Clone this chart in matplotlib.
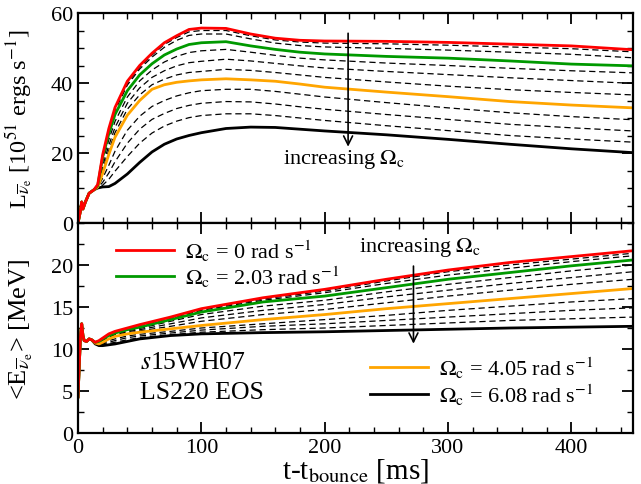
import matplotlib
matplotlib.use("Agg")
import matplotlib.pyplot as plt
from matplotlib.ticker import MultipleLocator

plt.rcParams['font.family'] = ['Liberation Serif', 'DejaVu Serif']
plt.rcParams['mathtext.fontset'] = 'stix'

# ---------------- data: luminosity (top panel) ----------------
t_lum = [0, 2, 3, 4, 6, 9, 13, 16, 20, 25, 30, 40, 50, 60, 70, 80, 90, 100,
         120, 140, 160, 180, 200, 250, 300, 350, 400, 450]
early_lum = [0, 3.5, 6, 4, 6, 8.5, 9.5]
L_red    = early_lum + [11.0, 19.5, 27.0, 33.0, 40.5, 45.0, 48.5, 51.5, 53.5, 55.3, 55.7, 55.6, 54.0, 52.8, 52.2, 52.0, 51.9, 51.6, 51.1, 50.6, 49.5]
L_d1     = early_lum + [10.9, 19.3, 26.7, 32.6, 40.0, 44.5, 48.0, 51.0, 53.0, 54.6, 55.0, 55.0, 53.5, 52.3, 51.7, 51.4, 51.2, 50.8, 50.3, 49.8, 48.9]
L_d2     = early_lum + [10.8, 19.1, 26.3, 32.1, 39.4, 44.0, 47.4, 50.2, 52.2, 53.6, 54.0, 54.0, 52.6, 51.4, 50.7, 50.3, 49.9, 49.4, 48.8, 48.2, 47.2]
L_green  = early_lum + [10.7, 18.8, 25.5, 31.0, 37.8, 42.3, 45.5, 48.0, 49.7, 51.0, 51.5, 51.8, 50.6, 49.6, 48.8, 48.3, 47.6, 47.1, 46.3, 45.4, 44.9]
L_d3     = early_lum + [10.6, 17.5, 23.8, 29.0, 36.0, 40.6, 43.7, 46.0, 47.6, 48.7, 49.2, 49.6, 48.8, 47.9, 47.1, 46.6, 45.7, 45.0, 44.2, 43.5, 42.9]
L_d4     = early_lum + [10.5, 16.3, 22.2, 27.3, 34.2, 38.6, 41.6, 43.5, 44.9, 45.8, 46.2, 46.8, 46.3, 45.6, 44.9, 44.3, 43.3, 42.4, 41.5, 40.7, 39.9]
L_d5     = early_lum + [10.4, 15.2, 20.8, 25.8, 32.5, 36.6, 39.5, 41.1, 42.3, 43.0, 43.3, 43.9, 43.6, 43.0, 42.3, 41.6, 40.3, 39.1, 38.1, 37.3, 36.6]
L_orange = early_lum + [10.3, 14.2, 19.6, 24.5, 30.8, 35.0, 38.2, 39.5, 40.2, 40.6, 40.9, 41.2, 40.9, 40.5, 39.7, 38.8, 37.4, 36.1, 34.7, 33.7, 32.9]
L_d6     = early_lum + [10.2, 12.8, 16.5, 20.5, 26.5, 30.5, 33.3, 35.0, 36.3, 37.2, 37.8, 38.2, 38.2, 37.6, 36.8, 36.0, 34.4, 32.9, 31.5, 30.4, 29.5]
L_d7     = early_lum + [10.1, 11.6, 14.3, 17.5, 22.8, 26.8, 29.6, 31.3, 32.7, 33.6, 34.2, 34.7, 34.6, 34.0, 33.2, 32.5, 31.0, 29.6, 28.2, 27.2, 26.3]
L_d8     = early_lum + [10.0, 10.8, 12.5, 14.8, 19.0, 22.8, 25.7, 27.7, 29.1, 30.1, 30.7, 31.2, 31.2, 30.7, 30.0, 29.3, 27.8, 26.4, 25.0, 24.0, 23.1]
L_black  = early_lum + [10.0, 10.3, 10.4, 11.3, 14.0, 17.3, 20.3, 22.5, 24.0, 25.0, 25.8, 27.0, 27.4, 27.3, 26.8, 26.3, 25.2, 23.9, 22.5, 21.2, 20.1]

# ---------------- data: mean energy (bottom panel) ----------------
t_E = [0, 1, 2, 3, 4, 5, 7, 9, 11, 14, 17, 20, 25, 30, 40, 50, 75, 100,
       150, 200, 250, 300, 350, 400, 450]
early_E = [4.3, 8.0, 11.5, 13.0, 11.6, 11.0, 10.9, 11.2, 11.1]
E_red    = early_E + [10.8, 11.0, 11.3, 11.8, 12.1, 12.5, 12.9, 13.8, 14.8, 16.1, 17.1, 18.3, 19.4, 20.3, 21.0, 21.7]
E_d1     = early_E + [10.8, 10.95, 11.25, 11.75, 12.05, 12.45, 12.85, 13.75, 14.7, 15.95, 16.9, 18.1, 19.2, 20.0, 20.7, 21.4]
E_d2     = early_E + [10.8, 10.9, 11.2, 11.7, 12.0, 12.4, 12.8, 13.65, 14.6, 15.8, 16.7, 17.8, 18.8, 19.6, 20.4, 21.1]
E_green  = early_E + [10.8, 10.9, 11.2, 11.6, 11.9, 12.3, 12.6, 13.5, 14.4, 15.6, 16.3, 17.3, 18.3, 19.1, 19.9, 20.6]
E_d3     = early_E + [10.75, 10.8, 11.1, 11.5, 11.8, 12.15, 12.45, 13.3, 14.1, 15.1, 15.8, 16.8, 17.7, 18.5, 19.3, 20.0]
E_d4     = early_E + [10.75, 10.75, 11.0, 11.4, 11.7, 12.05, 12.3, 13.0, 13.7, 14.6, 15.3, 16.2, 17.0, 17.8, 18.5, 19.2]
E_d5     = early_E + [10.7, 10.7, 10.9, 11.3, 11.6, 11.9, 12.15, 12.7, 13.3, 14.1, 14.7, 15.5, 16.3, 17.0, 17.7, 18.3]
E_orange = early_E + [10.7, 10.6, 10.8, 11.2, 11.5, 11.8, 12.0, 12.4, 12.8, 13.5, 14.1, 14.8, 15.4, 16.0, 16.6, 17.2]
E_d6     = early_E + [10.65, 10.55, 10.7, 11.0, 11.2, 11.55, 11.75, 12.1, 12.5, 13.0, 13.5, 14.0, 14.6, 15.1, 15.6, 16.0]
E_d7     = early_E + [10.65, 10.5, 10.6, 10.8, 11.0, 11.35, 11.55, 11.9, 12.25, 12.7, 13.0, 13.4, 13.8, 14.2, 14.6, 14.9]
E_d8     = early_E + [10.6, 10.45, 10.5, 10.65, 10.8, 11.1, 11.35, 11.7, 12.0, 12.3, 12.5, 12.8, 13.1, 13.4, 13.6, 13.8]
E_black  = early_E + [10.6, 10.4, 10.4, 10.5, 10.6, 10.9, 11.2, 11.6, 11.8, 11.95, 12.05, 12.2, 12.35, 12.5, 12.6, 12.7]

legend_labels = [r'$\Omega_\mathrm{c}$ = 0 rad s$^{-1}$',
                 r'$\Omega_\mathrm{c}$ = 2.03 rad s$^{-1}$',
                 r'$\Omega_\mathrm{c}$ = 4.05 rad s$^{-1}$',
                 r'$\Omega_\mathrm{c}$ = 6.08 rad s$^{-1}$']

RED, GREEN, ORANGE, BLACK = '#ff0000', '#009900', '#ffa500', '#000000'

fig = plt.figure(figsize=(6.41, 4.85), dpi=100)
x0, x1 = 78/641, 633/641
ax1 = fig.add_axes([x0, 1-224/485, x1-x0, 210/485])
ax2 = fig.add_axes([x0, 1-434/485, x1-x0, 210/485])

dash = dict(color='black', lw=0.9, ls=(0, (5, 3)))
solid_lw = 2.0

def draw(ax, t, curves):
    red, d1, d2, green, d3, d4, d5, orange, d6, d7, d8, black = curves
    for d in (d1, d2, d3, d4, d5, d6, d7, d8):
        ax.plot(t, d, **dash)
    h_black, = ax.plot(t, black, color=BLACK, lw=solid_lw)
    h_orange, = ax.plot(t, orange, color=ORANGE, lw=solid_lw)
    h_green, = ax.plot(t, green, color=GREEN, lw=solid_lw)
    h_red, = ax.plot(t, red, color=RED, lw=solid_lw)
    return h_red, h_green, h_orange, h_black

draw(ax1, t_lum, [L_red, L_d1, L_d2, L_green, L_d3, L_d4, L_d5, L_orange, L_d6, L_d7, L_d8, L_black])
h = draw(ax2, t_E, [E_red, E_d1, E_d2, E_green, E_d3, E_d4, E_d5, E_orange, E_d6, E_d7, E_d8, E_black])

for ax in (ax1, ax2):
    ax.set_xlim(0, 450)
    ax.xaxis.set_major_locator(MultipleLocator(100))
    ax.xaxis.set_minor_locator(MultipleLocator(20))
    ax.tick_params(which='both', direction='in', top=True, right=True, labelsize=16)
    ax.tick_params(which='major', length=8, width=1.3)
    ax.tick_params(which='minor', length=4, width=1.0)
    for s in ax.spines.values():
        s.set_linewidth(1.6)

ax1.set_ylim(0, 60)
ax1.yaxis.set_major_locator(MultipleLocator(20))
ax1.yaxis.set_minor_locator(MultipleLocator(5))
ax1.tick_params(labelbottom=False)

ax2.set_ylim(0, 25)
ax2.yaxis.set_major_locator(MultipleLocator(5))
ax2.yaxis.set_minor_locator(MultipleLocator(2.5))
ax2.set_yticks([0, 5, 10, 15, 20])

ax1.set_ylabel(r'L$_{\overline{\nu}_\mathrm{e}}$ [10$^{51}$ ergs s$^{-1}$]', fontsize=17.5)
ax2.set_ylabel(r'<E$_{\overline{\nu}_\mathrm{e}}$> [MeV]', fontsize=19)
ax2.set_xlabel(r't-t$_\mathrm{bounce}$ [ms]', fontsize=21, labelpad=0)
ax1.yaxis.set_label_coords(-0.078, 0.5)
ax2.yaxis.set_label_coords(-0.078, 0.5)
ax2.xaxis.set_label_coords(0.5, -0.11)

# annotations
ax1.annotate('', xy=(219, 21), xytext=(219, 55),
             arrowprops=dict(arrowstyle='->', lw=1.2, color='black', mutation_scale=16))
ax1.text(166, 18.3, r'increasing $\Omega_\mathrm{c}$', fontsize=16, va='center', ha='left')
ax2.annotate('', xy=(272, 10.3), xytext=(272, 20.2),
             arrowprops=dict(arrowstyle='->', lw=1.2, color='black', mutation_scale=16))
ax2.text(228, 22.2, r'increasing $\Omega_\mathrm{c}$', fontsize=16, va='center', ha='left')
ax2.text(50, 8.5, r'$\it{s}$15WH07', fontsize=18.5, va='center', ha='left')
ax2.text(50, 4.9, 'LS220 EOS', fontsize=18.5, va='center', ha='left')

leg1 = ax2.legend([h[0], h[1]], legend_labels[:2], loc='upper left', bbox_to_anchor=(0.068, 0.93),
                  frameon=False, fontsize=16, handlelength=2.6, handletextpad=0.5,
                  labelspacing=0.0, borderpad=0, borderaxespad=0)
ax2.add_artist(leg1)
ax2.legend([h[2], h[3]], legend_labels[2:], loc='lower right', bbox_to_anchor=(0.93, 0.125),
           frameon=False, fontsize=16, handlelength=2.6, handletextpad=0.5,
           labelspacing=0.05, borderpad=0, borderaxespad=0)

fig.savefig('out.png', dpi=100)
